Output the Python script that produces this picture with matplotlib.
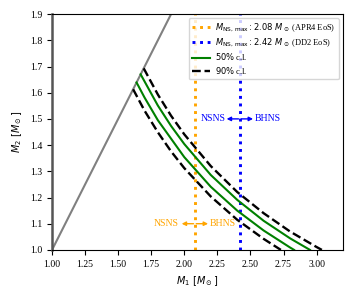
import matplotlib
matplotlib.use("Agg")
import matplotlib.pyplot as plt
from matplotlib.lines import Line2D

plt.rcParams['font.family'] = ['Liberation Serif', 'DejaVu Serif']
plt.rcParams['mathtext.fontset'] = 'dejavusans'
plt.rcParams['font.size'] = 7

# equal-mass line
diag_m = [1.0, 1.95]

# 90% c.l. lower (dashed)
d1_m1 = [1.613, 1.7, 1.8, 1.9, 2.0, 2.2, 2.4, 2.6, 2.73]
d1_m2 = [1.613, 1.531, 1.449, 1.376, 1.312, 1.204, 1.115, 1.042, 1.000]
# 50% c.l. lower (solid)
g1_m1 = [1.639, 1.7, 1.8, 2.0, 2.2, 2.4, 2.6, 2.8, 2.83]
g1_m2 = [1.639, 1.581, 1.495, 1.354, 1.241, 1.150, 1.074, 1.009, 1.000]
# 50% c.l. upper (solid)
g2_m1 = [1.670, 1.8, 1.9, 2.0, 2.2, 2.4, 2.6, 2.8, 2.95]
g2_m2 = [1.670, 1.551, 1.473, 1.404, 1.286, 1.191, 1.111, 1.044, 1.000]
# 90% c.l. upper (dashed)
d2_m1 = [1.693, 1.8, 1.9, 2.0, 2.2, 2.4, 2.6, 2.8, 3.0, 3.04]
d2_m2 = [1.693, 1.593, 1.512, 1.441, 1.320, 1.221, 1.140, 1.070, 1.011, 1.000]

mns_apr4 = 2.08
mns_dd2 = 2.42

DOT = (1, 1.6)

fig = plt.figure(figsize=(3.54, 3.0), dpi=100)
ax = fig.add_axes([0.147, 0.167, 0.822, 0.786])

ax.plot(diag_m, diag_m, color='gray', lw=1.5, zorder=1)
ax.axvline(mns_apr4, color='orange', ls=(0, DOT), lw=2.1, zorder=2)
ax.axvline(mns_dd2, color='blue', ls=(0, DOT), lw=2.1, zorder=2)

ax.plot(g1_m1, g1_m2, color='green', lw=1.5, zorder=3)
ax.plot(g2_m1, g2_m2, color='green', lw=1.5, zorder=3)
ax.plot(d1_m1, d1_m2, color='black', ls='--', lw=1.7, zorder=3)
ax.plot(d2_m1, d2_m2, color='black', ls='--', lw=1.7, zorder=3)

# annotations
arr_b = dict(arrowstyle='-|>', color='blue', lw=1.0, shrinkA=0, shrinkB=0, mutation_scale=6)
ax.annotate('', xy=(mns_dd2 - 0.1, 1.5), xytext=(mns_dd2 - 0.01, 1.5), arrowprops=arr_b)
ax.annotate('', xy=(mns_dd2 + 0.1, 1.5), xytext=(mns_dd2 + 0.01, 1.5), arrowprops=arr_b)
ax.text(mns_dd2 - 0.105, 1.5, 'NSNS', color='blue', ha='right', va='center', fontsize=7)
ax.text(mns_dd2 + 0.115, 1.5, 'BHNS', color='blue', ha='left', va='center', fontsize=7)

arr_o = dict(arrowstyle='-|>', color='orange', lw=1.0, shrinkA=0, shrinkB=0, mutation_scale=6)
ax.annotate('', xy=(mns_apr4 - 0.1, 1.1), xytext=(mns_apr4 - 0.01, 1.1), arrowprops=arr_o)
ax.annotate('', xy=(mns_apr4 + 0.1, 1.1), xytext=(mns_apr4 + 0.01, 1.1), arrowprops=arr_o)
ax.text(mns_apr4 - 0.125, 1.1, 'NSNS', color='orange', ha='right', va='center', fontsize=7)
ax.text(mns_apr4 + 0.115, 1.1, 'BHNS', color='orange', ha='left', va='center', fontsize=7)

ax.set_xlim(1.0, 3.2)
ax.set_ylim(1.0, 1.9)
ax.set_xticks([1.0, 1.25, 1.5, 1.75, 2.0, 2.25, 2.5, 2.75, 3.0])
ax.set_xticklabels(['1.00', '1.25', '1.50', '1.75', '2.00', '2.25', '2.50', '2.75', '3.00'])
ax.set_yticks([1.0, 1.1, 1.2, 1.3, 1.4, 1.5, 1.6, 1.7, 1.8, 1.9])
ax.set_xlabel(r'$M_1\ [M_\odot]$', fontsize=7)
ax.set_ylabel(r'$M_2\ [M_\odot]$', fontsize=7)
ax.spines['left'].set_color('#555555')
ax.spines['left'].set_linewidth(1.8)

handles = [
    Line2D([], [], color='orange', ls=(0, DOT), lw=2.1),
    Line2D([], [], color='blue', ls=(0, DOT), lw=2.1),
    Line2D([], [], color='green', lw=1.5),
    Line2D([], [], color='black', ls='--', lw=1.7),
]
labels = [
    r'$M_{\rm NS,\,max}: 2.08\ M_\odot$ (APR4 EoS)',
    r'$M_{\rm NS,\,max}: 2.42\ M_\odot$ (DD2 EoS)',
    r'$50\%$ c.l.',
    r'$90\%$ c.l.',
]
ax.legend(handles, labels, loc='upper right', fontsize=6, handlelength=2.2,
          handletextpad=0.6, borderpad=0.4, labelspacing=0.3, framealpha=0.8)

fig.savefig('out.png', dpi=100)
